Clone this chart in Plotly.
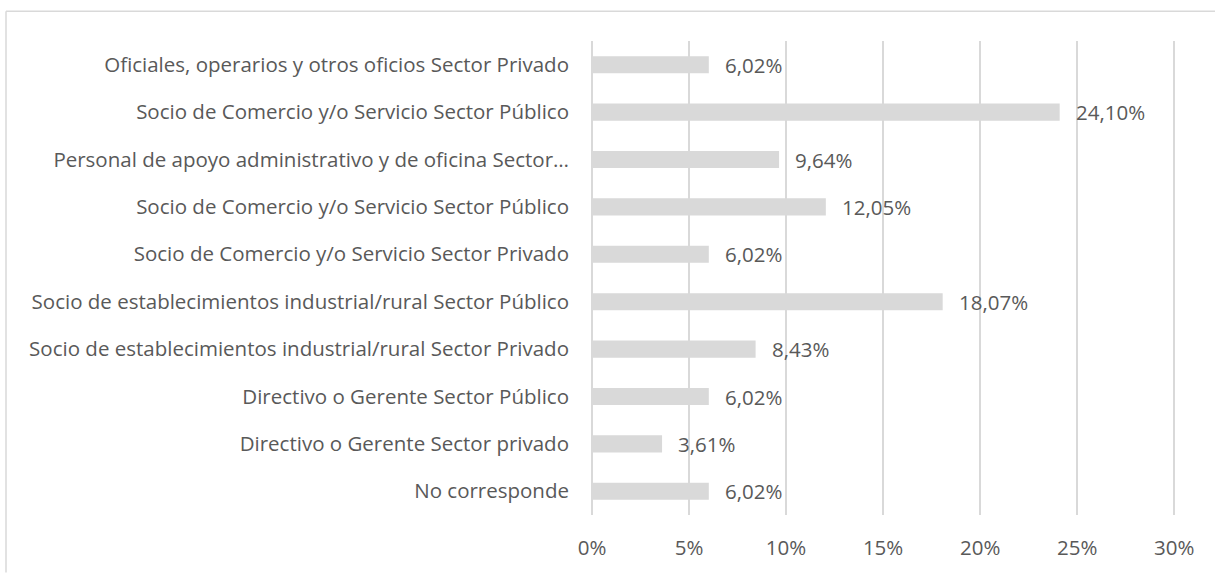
import plotly.graph_objects as go

# Occupation categories, top to bottom
categories = [
    "Oficiales, operarios y otros oficios Sector Privado",
    "Socio de Comercio y/o Servicio Sector Público",
    "Personal de apoyo administrativo y de oficina Sector…",
    "Socio de Comercio y/o Servicio Sector Público",
    "Socio de Comercio y/o Servicio Sector Privado",
    "Socio de establecimientos industrial/rural Sector Público",
    "Socio de establecimientos industrial/rural Sector Privado",
    "Directivo o Gerente Sector Público",
    "Directivo o Gerente Sector privado",
    "No corresponde",
]
# Share of respondents (%)
values = [6.02, 24.10, 9.64, 12.05, 6.02, 18.07, 8.43, 6.02, 3.61, 6.02]
x_ticks = [0, 5, 10, 15, 20, 25, 30]
x_tick_labels = [f"{t}%" for t in x_ticks]

positions = list(range(len(categories)))
text_color = "#595959"
grid_color = "#d9d9d9"
font_family = "Open Sans, Lato, sans-serif"
font_size = 20.5

fig = go.Figure()
fig.add_trace(go.Bar(
    x=values,
    y=positions,
    orientation="h",
    marker=dict(color="#d9d9d9", line=dict(width=0)),
    hoverinfo="skip",
))

# value labels to the right of each bar
for pos, v in zip(positions, values):
    fig.add_annotation(
        x=v, y=pos, xref="x", yref="y",
        text=f"{v:.2f}".replace(".", ",") + "%",
        showarrow=False, xanchor="left", yanchor="middle", xshift=14,
        font=dict(family=font_family, size=font_size, color=text_color),
    )

W, H = 1215, 573
ml, mr, mt, mb = 592, 35, 41, 53
pw, ph = W - ml - mr, H - mt - mb

def px_x(p):
    return (p - ml) / pw

def px_y(p):
    return (H - mb - p) / ph

# outer frame (top and left edges)
frame = dict(type="line", xref="paper", yref="paper",
             line=dict(color="#d9d9d9", width=1.5), layer="below")
fig.add_shape(**frame, x0=px_x(6), x1=px_x(W + 5), y0=px_y(11), y1=px_y(11))
fig.add_shape(**frame, x0=px_x(6), x1=px_x(6), y0=px_y(11), y1=px_y(H + 5))

fig.update_layout(
    width=W, height=H,
    margin=dict(l=ml, r=mr, t=mt, b=mb, pad=0),
    paper_bgcolor="white", plot_bgcolor="white",
    bargap=0.64,
    showlegend=False,
    font=dict(family=font_family, size=font_size, color=text_color),
    xaxis=dict(
        range=[0, 30.3], tickvals=x_ticks, ticktext=x_tick_labels,
        showgrid=True, gridcolor=grid_color, gridwidth=1.5,
        zeroline=True, zerolinecolor=grid_color, zerolinewidth=1.5,
        showline=False, ticks="", ticklabelstandoff=18,
        tickfont=dict(size=font_size, color=text_color),
        fixedrange=True,
    ),
    yaxis=dict(
        tickvals=positions, ticktext=categories,
        range=[len(categories) - 0.5, -0.5],
        showgrid=False, zeroline=False, showline=False, ticks="",
        ticklabelstandoff=22,
        tickfont=dict(size=font_size, color=text_color),
        fixedrange=True,
    ),
)

fig.write_html("out.html")
